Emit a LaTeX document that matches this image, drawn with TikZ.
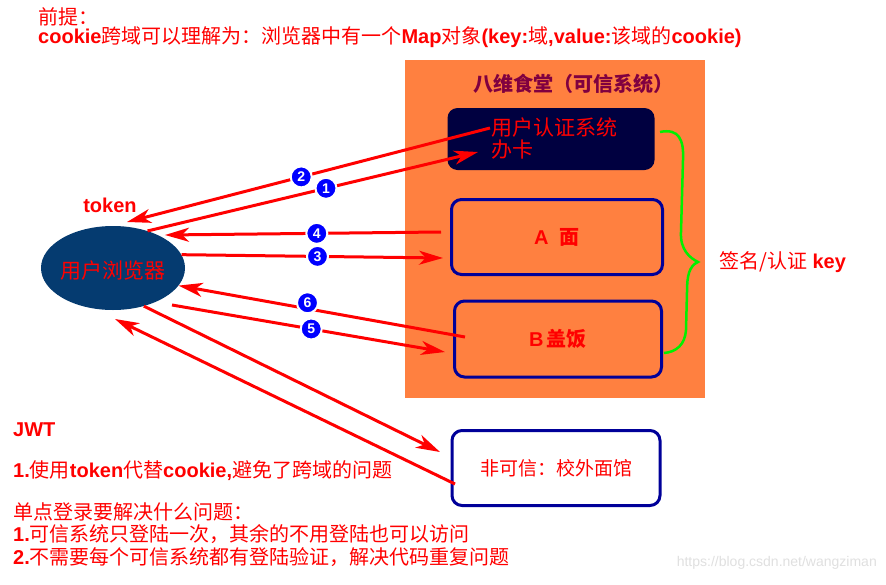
\documentclass[tikz,border=0pt]{standalone}
\usepackage{fontspec}
\setmainfont{Liberation Sans}
\newfontfamily\cjk{Noto Sans CJK SC}
\usetikzlibrary{arrows.meta,shapes.geometric}
\definecolor{hotred}{HTML}{FF0000}
\definecolor{canteen}{HTML}{FF8040}
\definecolor{navybox}{HTML}{000040}
\definecolor{edgeblue}{HTML}{000099}
\definecolor{ballblue}{HTML}{0000FF}
\definecolor{browserblue}{HTML}{053B70}
\definecolor{plum}{HTML}{800040}
\definecolor{bracegreen}{HTML}{00F000}
\newcommand\zh[1]{{\cjk\mdseries #1}}
\newcommand\zhb[1]{{\cjk\bfseries #1}}
\tikzset{flow/.style={draw=hotred, line width=3pt, -{Stealth[length=24pt,width=14pt,inset=7pt]}}}
\tikzset{numdot/.style={circle, fill=ballblue, draw=white, line width=2pt, text=white, inner sep=0pt, minimum size=21pt, font=\fontsize{14}{14}\selectfont\bfseries}}
\tikzset{sysbox/.style={rounded corners=10pt, draw=edgeblue, line width=3pt, fill=canteen}}
\tikzset{redtext/.style={text=hotred, anchor=west, inner sep=0pt, font=\fontsize{20}{22}\selectfont\bfseries}}

\begin{document}
\begin{tikzpicture}[x=1pt, y=-1pt]
  \useasboundingbox[fill=white] (0,0) rectangle (886,584);
  % trusted system
  \fill[canteen] (405,60) rectangle (705,398);
  \node[text=plum, font=\fontsize{20}{22}\selectfont] (trust) at (573,84) {\zhb{八维食堂（可信系统）}};
  \node[rounded corners=10pt, fill=navybox, minimum width=207pt, minimum height=62pt] (auth) at (551,139) {};
  \node[redtext, font=\fontsize{21}{22}\selectfont] (authtxt) at (491,128) {\zh{用户认证系统}};
  \node[redtext, font=\fontsize{21}{22}\selectfont] (card) at (491,150) {\zh{办卡}};
  \node[sysbox, minimum width=211pt, minimum height=75pt, text=hotred, font=\fontsize{20}{22}\selectfont\bfseries] (amian) at (557,237) {A\ \ \zhb{面}};
  \node[sysbox, minimum width=207pt, minimum height=76pt, text=hotred, font=\fontsize{20}{22}\selectfont\bfseries] (bfan) at (558,339) {B\,\zhb{盖饭}};
  \node[sysbox, fill=white, minimum width=208pt, minimum height=75pt, text=hotred, font=\fontsize{19}{22}\selectfont] (outside) at (556,468) {\zh{非可信：校外面馆}};
  % browser
  \node[ellipse, fill=browserblue, inner sep=0pt, minimum width=144pt, minimum height=84pt] (browser) at (113,268) {};
  \node[text=hotred, font=\fontsize{21}{22}\selectfont] (browsertxt) at (113,271) {\zh{用户浏览器}};
  \node[redtext, anchor=center] (token) at (110,205) {token};
  % brace
  \draw[bracegreen, line width=2.5pt] (660,132) .. controls (679,128) and (684,140) .. (683,160)
    -- (681,232) .. controls (680,250) and (690,258) .. (698,262)
    .. controls (689,266) and (687,276) .. (687,292) -- (686,330)
    .. controls (685,345) and (676,352) .. (664,353);
  \node[redtext] (key) at (719,262) {\zh{签名/认证} key};
  % end points
  \coordinate (tip2) at (127,222);
  \coordinate (tip4) at (165,235);
  \coordinate (from5) at (172,305);
  \coordinate (tipback) at (115,319);
  \coordinate (in1) at (478,152);
  \coordinate (out2) at (490,128);
  \coordinate (out4) at (441,232);
  \coordinate (in3) at (443,258);
  \coordinate (out6) at (465,337);
  \coordinate (in5) at (445,352);
  \coordinate (inout) at (440,452);
  \coordinate (outout) at (455,484);
  % arrows
  \draw[flow] (out2) -- node[numdot, pos=0.52] {2} (tip2);
  \draw[flow] (browser.47) -- node[numdot, pos=0.54] {1} (in1);
  \draw[flow] (out4) -- node[numdot, pos=0.45] {4} (tip4);
  \draw[flow] (browser.11) -- node[numdot, pos=0.52] {3} (in3);
  \draw[flow] (out6) -- node[numdot, pos=0.55, yshift=6pt] {6} (browser.-15);
  \draw[flow] (from5) -- node[numdot, pos=0.51] {5} (in5);
  \draw[flow] (browser.-51) -- (inout);
  \draw[flow] (outout) -- (tipback);
  % notes
  \node[redtext] (head) at (38,17) {\zh{前提：}};
  \node[redtext] (cookie) at (38,37) {cookie\zh{跨域可以理解为：浏览器中有一个}Map\zh{对象}(key:\zh{域},value:\zh{该域的}cookie)};
  \node[redtext] (jwt) at (13,430) {JWT};
  \node[redtext] (jwt1) at (13,471) {1.\zh{使用}token\zh{代替}cookie,\zh{避免了跨域的问题}};
  \node[redtext] (sso) at (13,512) {\zh{单点登录要解决什么问题：}};
  \node[redtext] (sso1) at (13,534) {1.\zh{可信系统只登陆一次，其余的不用登陆也可以访问}};
  \node[redtext] (sso2) at (13,557) {2.\zh{不需要每个可信系统都有登陆验证，解决代码重复问题}};
  \node[text=black!12, anchor=east, inner sep=0pt, font=\fontsize{14}{16}\selectfont] (mark) at (877,563) {https://blog.csdn.net/wangziman};
\end{tikzpicture}
\end{document}
